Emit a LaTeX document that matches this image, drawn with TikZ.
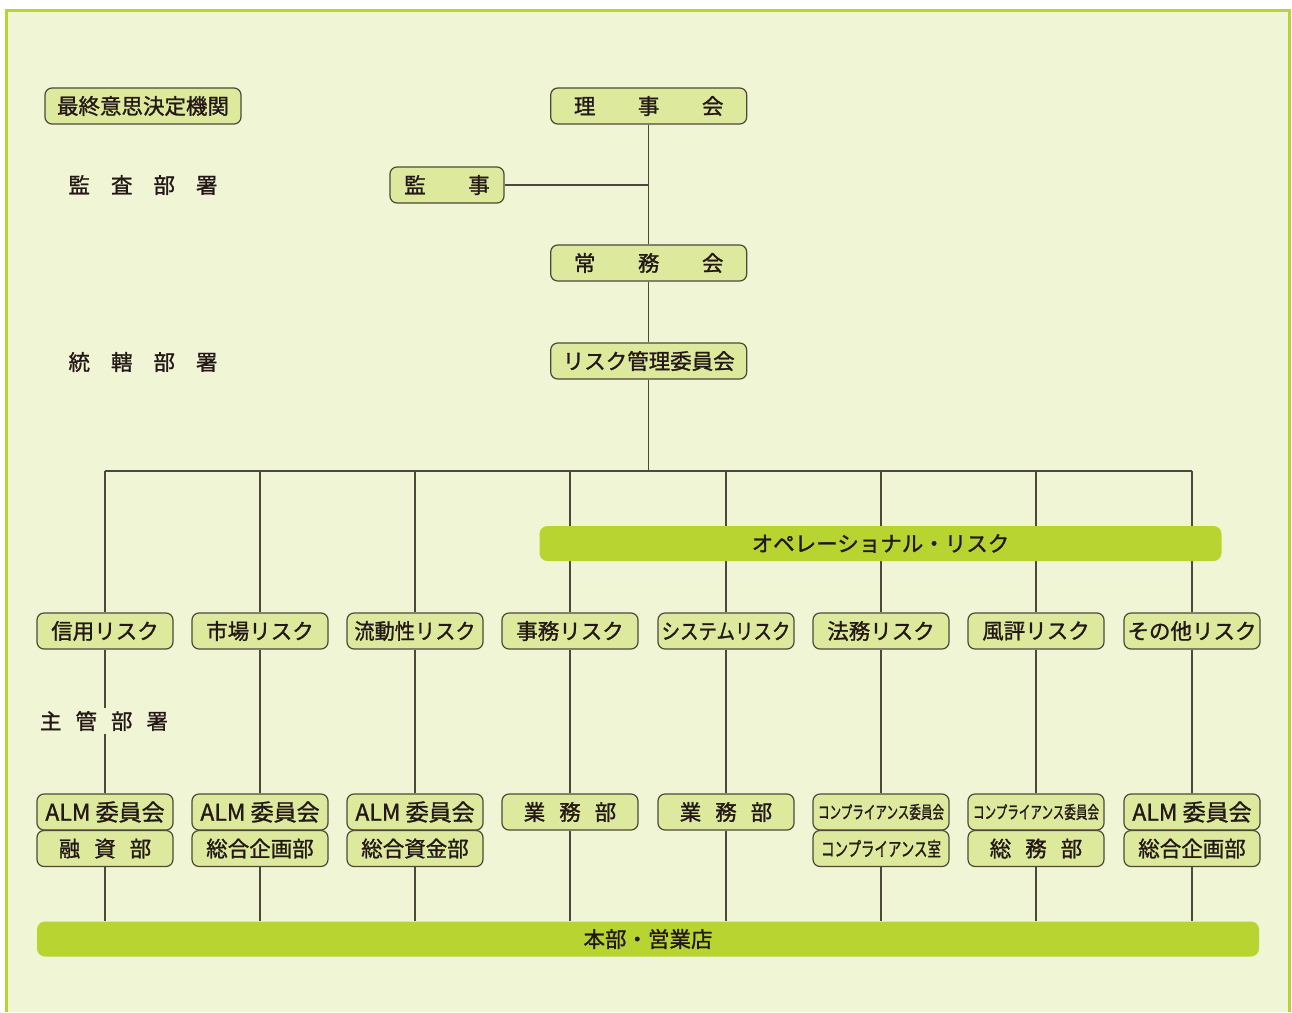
\documentclass[tikz,border=0pt]{standalone}
\usepackage{fontspec}
\usepackage{graphicx}
\setmainfont{Noto Sans CJK JP}[AutoFakeBold=1.2]
\definecolor{bg}{RGB}{240,245,214}
\definecolor{boxfill}{RGB}{221,233,156}
\definecolor{boxline}{RGB}{78,72,58}
\definecolor{barfill}{RGB}{184,212,48}
\definecolor{ink}{RGB}{35,24,21}
\newcommand{\gapA}{\hspace{21pt}}
\newcommand{\gapB}{\hspace{14pt}}
\newcommand{\gapC}{\hspace{42.5pt}}
\newcommand{\narrow}[2]{\scalebox{#1}[1]{#2}}
\newcommand{\alm}{{\fontsize{23}{25}\selectfont ALM 委員会}}
\begin{document}
\begin{tikzpicture}[x=1pt,y=-1pt,
  txt/.style={text=ink,font=\fontsize{21.5}{24}\selectfont\bfseries},
  box/.style={txt,draw=boxline,fill=boxfill,line width=1.2pt,rounded corners=7pt,
    minimum height=36pt,minimum width=136pt,inner sep=0pt},
  topbox/.style={box,minimum width=196pt},
  bar/.style={txt,fill=barfill,rounded corners=8pt,minimum height=35pt,inner sep=0pt},
  link/.style={draw=boxline,line width=1.4pt},
  lbl/.style={txt,inner sep=1pt}]
\useasboundingbox (0,0) rectangle (1292,1012);
% page background and frame
\fill[white] (0,0) rectangle (1292,1012);
\fill[bg] (6.5,10) rectangle (1289.5,1012);
\draw[barfill,line width=3pt] (6.5,1012) -- (6.5,10) -- (1289.5,10) -- (1289.5,1012);

% left-hand level labels
\node[box,minimum width=196pt] (saishu) at (143,106) {最終意思決定機関};
\node[lbl] (kansabusho) at (143,185) {監\gapA 査\gapA 部\gapA 署};
\node[lbl] (tokatsu) at (143,362) {統\gapA 轄\gapA 部\gapA 署};

% governing bodies
\node[topbox] (rijikai) at (648.7,106) {理\gapC 事\gapC 会};
\node[box,minimum width=114pt] (kanji) at (447,185) {監\gapC 事};
\node[topbox] (jomukai) at (648.7,263) {常\gapC 務\gapC 会};
\node[topbox] (riskcom) at (648.7,361) {リスク管理委員会};

% risk categories
\foreach \n/\x/\t in {1/105/信用リスク,2/260/市場リスク,3/415/{\narrow{0.94}{流動性リスク}},4/570/事務リスク,
    5/726/{\narrow{0.86}{システムリスク}},6/881/法務リスク,7/1036/風評リスク,8/1192/その他リスク}{
  \node[box] (risk\n) at (\x,631) {\t};
  \coordinate (bus\n) at (\x,471);
}

% responsible departments
\node[box] (dA1) at (105,812) {\alm};
\node[box] (dB1) at (105,848.5) {融\gapB 資\gapB 部};
\node[box] (dA2) at (260,812) {\alm};
\node[box] (dB2) at (260,848.5) {総合企画部};
\node[box] (dA3) at (415,812) {\alm};
\node[box] (dB3) at (415,848.5) {総合資金部};
\node[box] (dB4) at (570,812) {業\gapB 務\gapB 部};
\node[box] (dB5) at (726,812) {業\gapB 務\gapB 部};
\node[box] (dA6) at (881,812) {\fontsize{17.5}{20}\selectfont\narrow{0.66}{コンプライアンス委員会}};
\node[box] (dB6) at (881,848.5) {\fontsize{19.5}{22}\selectfont\narrow{0.69}{コンプライアンス室}};
\node[box] (dA7) at (1036,812) {\fontsize{17.5}{20}\selectfont\narrow{0.66}{コンプライアンス委員会}};
\node[box] (dB7) at (1036,848.5) {総\gapB 務\gapB 部};
\node[box] (dA8) at (1192,812) {\alm};
\node[box] (dB8) at (1192,848.5) {総合企画部};

% head office and branches
\node[bar,minimum width=1222pt] (honbu) at (648,939) {本部・営業店};

% connectors
\coordinate (kanjiJoin) at (648.7,185);
\draw[link] (rijikai.south) -- (jomukai.north);
\draw[link] (kanji.east) -- (kanjiJoin);
\draw[link] (jomukai.south) -- (riskcom.north);
\draw[link] (riskcom.south) -- (riskcom.south |- bus1);
\draw[link] (bus1) -- (bus8);
\foreach \n in {1,...,8}{
  \draw[link] (bus\n) -- (risk\n.north);
}
\foreach \n in {1,2,3,6,7,8}{
  \draw[link] (risk\n.south) -- (dA\n.north);
  \draw[link] (dB\n.south) -- (dB\n.south |- honbu.north);
}
\foreach \n in {4,5}{
  \draw[link] (risk\n.south) -- (dB\n.north);
  \draw[link] (dB\n.south) -- (dB\n.south |- honbu.north);
}

% operational risk band over the column lines
\node[bar,minimum width=682pt] (oprisk) at (880.5,543.5) {オペレーショナル・リスク};

% label sitting on the first column line
\node[lbl,fill=bg,inner sep=3pt] (shukan) at (104,721) {主\gapB 管\gapB 部\gapB 署};
\end{tikzpicture}
\end{document}
